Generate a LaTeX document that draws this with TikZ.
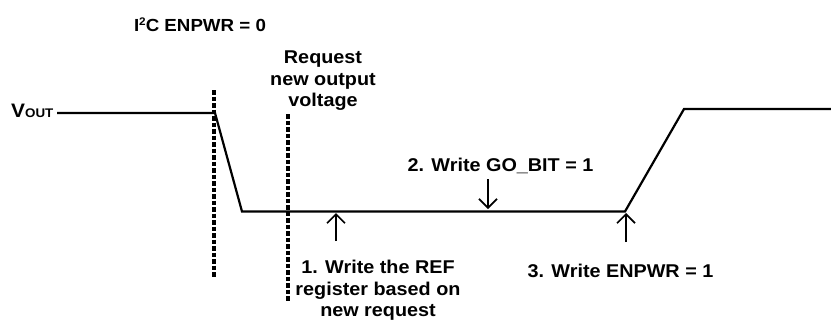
\documentclass[tikz,border=0pt]{standalone}
\usepackage{fontspec}
\setmainfont{Liberation Sans}[FakeStretch=1.07]
\usetikzlibrary{arrows.meta}
\begin{document}
\begin{tikzpicture}[x=1pt,y=-1pt,
  lbl/.style={font=\bfseries\fontsize{18.5}{21.5}\selectfont, inner sep=0pt, align=center, anchor=base},
  sig/.style={line width=2.2pt, line join=miter},
  markline/.style={line width=3.6pt, dash pattern=on 4.5pt off 2pt},
  ann/.style={line width=1.7pt, -{Straight Barb[length=9pt,width=18pt,line width=1.7pt]}}]
\useasboundingbox (0,0) rectangle (831,322);
% labels
\node[lbl, font=\bfseries\fontsize{17.5}{21}\selectfont] (i2c) at (200,31.5) {I\raisebox{6.5pt}{\fontsize{11}{11}\selectfont 2}C ENPWR = 0};
\node[lbl] (req) at (323,106.5) {Request\\new output\\voltage};
\node[lbl] (w1) at (378,316.5) {1. Write the REF\\register based on\\new request};
\node[lbl] (w2) at (500.5,171.5) {2. Write GO\_BIT = 1};
\node[lbl] (w3) at (620.5,277.7) {3. Write ENPWR = 1};
\node[inner sep=0pt, anchor=base west, font=\bfseries] (vout) at (11,117)
  {{\fontsize{19.5}{20}\selectfont V}{\fontsize{12.5}{14}\selectfont OUT}};
% signal
\coordinate (s0) at (57,113);
\coordinate (s1) at (215,113);
\coordinate (s2) at (242,211.5);
\coordinate (s3) at (625,211.5);
\coordinate (s4) at (684,109);
\coordinate (s5) at (831,109);
\draw[sig] (s0) -- (s1) -- (s2) -- (s3) -- (s4) -- (s5);
% markers
\coordinate (m1t) at (214,90);
\coordinate (m1b) at (214,278);
\coordinate (m2t) at (288,114);
\coordinate (m2b) at (288,302);
\draw[markline] (m1t) -- (m1b);
\draw[markline] (m2t) -- (m2b);
% annotation arrows
\coordinate (a1s) at (336,241);
\coordinate (a1e) at (336,213);
\coordinate (a2s) at (488,179);
\coordinate (a2e) at (488,209);
\coordinate (a3s) at (626,242);
\coordinate (a3e) at (626,213);
\draw[ann] (a1s) -- (a1e);
\draw[ann] (a2s) -- (a2e);
\draw[ann] (a3s) -- (a3e);
\end{tikzpicture}
\end{document}
